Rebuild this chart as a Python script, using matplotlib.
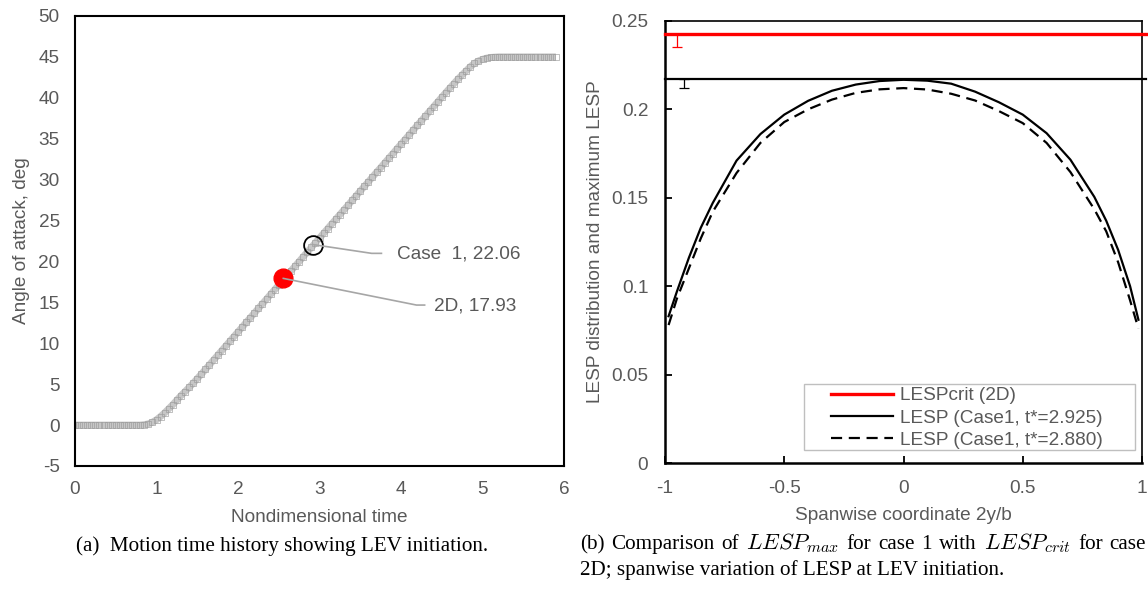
import numpy as np
import matplotlib
matplotlib.use("Agg")
import matplotlib.pyplot as plt
from matplotlib.patches import Rectangle

#########################################################################################
### Data
#########################################################################################
# (a) pitch motion: nondimensional time vs angle of attack (deg)
time = [0.00, 0.05, 0.10, 0.15, 0.20, 0.25, 0.30, 0.35, 0.40, 0.45,
        0.50, 0.55, 0.60, 0.65, 0.70, 0.75, 0.80, 0.85, 0.90, 0.95,
        1.00, 1.05, 1.10, 1.15, 1.20, 1.25, 1.30, 1.35, 1.40, 1.45,
        1.50, 1.55, 1.60, 1.65, 1.70, 1.75, 1.80, 1.85, 1.90, 1.95,
        2.00, 2.05, 2.10, 2.15, 2.20, 2.25, 2.30, 2.35, 2.40, 2.45,
        2.50, 2.55, 2.60, 2.65, 2.70, 2.75, 2.80, 2.85, 2.90, 2.95,
        3.00, 3.05, 3.10, 3.15, 3.20, 3.25, 3.30, 3.35, 3.40, 3.45,
        3.50, 3.55, 3.60, 3.65, 3.70, 3.75, 3.80, 3.85, 3.90, 3.95,
        4.00, 4.05, 4.10, 4.15, 4.20, 4.25, 4.30, 4.35, 4.40, 4.45,
        4.50, 4.55, 4.60, 4.65, 4.70, 4.75, 4.80, 4.85, 4.90, 4.95,
        5.00, 5.05, 5.10, 5.15, 5.20, 5.25, 5.30, 5.35, 5.40, 5.45,
        5.50, 5.55, 5.60, 5.65, 5.70, 5.75, 5.80, 5.85, 5.90]
alpha = [0, 0, 0, 0, 0, 0, 0, 0, 0, 0,
         0, 0, 0, 0, 0, 0, 0, 0.05, 0.15, 0.35,
         0.65, 1.05, 1.5, 2.0, 2.5, 3.05, 3.6, 4.1, 4.6, 5.12,
         5.67, 6.23, 6.80, 7.37, 7.95, 8.52, 9.10, 9.67, 10.24, 10.82,
         11.39, 11.96, 12.54, 13.11, 13.68, 14.26, 14.83, 15.40, 15.98, 16.55,
         17.12, 17.70, 18.27, 18.85, 19.42, 19.99, 20.57, 21.14, 21.71, 22.29,
         22.86, 23.43, 24.01, 24.58, 25.15, 25.73, 26.30, 26.87, 27.45, 28.02,
         28.60, 29.17, 29.74, 30.32, 30.89, 31.46, 32.04, 32.61, 33.18, 33.76,
         34.33, 34.90, 35.48, 36.05, 36.63, 37.20, 37.77, 38.35, 38.92, 39.49,
         40.07, 40.64, 41.2, 41.75, 42.3, 42.8, 43.3, 43.8, 44.2, 44.5,
         44.7, 44.85, 44.93, 44.97, 45, 45, 45, 45, 45, 45,
         45, 45, 45, 45, 45, 45, 45, 45, 45]

# LEV initiation points (time, alpha)
lev_2d = (2.556, 17.93)
lev_case1 = (2.924, 22.06)

# (b) spanwise LESP distribution
span = [-0.985, -0.95, -0.9, -0.85, -0.8, -0.7, -0.6, -0.5, -0.4, -0.3, -0.2, -0.1, 0.0,
        0.1, 0.2, 0.3, 0.4, 0.5, 0.6, 0.7, 0.8, 0.85, 0.9, 0.95, 0.985]
lesp_t2925 = [0.083, 0.097, 0.116, 0.133, 0.147, 0.171, 0.186, 0.197, 0.2048, 0.2105,
              0.2140, 0.2160, 0.2167, 0.2162, 0.2145, 0.2100, 0.2040, 0.1970, 0.1865,
              0.1715, 0.1505, 0.137, 0.1205, 0.100, 0.081]
lesp_t2880 = [0.078, 0.093, 0.110, 0.127, 0.142, 0.164, 0.181, 0.1928, 0.2000, 0.2055,
              0.2093, 0.2113, 0.2120, 0.2112, 0.2088, 0.2050, 0.1990, 0.1922, 0.181,
              0.1645, 0.1435, 0.131, 0.1135, 0.092, 0.076]

lesp_crit_2d = 0.2425
lesp_crit_2d_err = 0.007
lesp_max_case1 = 0.217
lesp_max_case1_err = 0.0052

#########################################################################################
### Style
#########################################################################################
W, H = 1148, 590
GRAY = "#595959"
FS = 13.7
plt.rcParams["font.family"] = ["Liberation Sans", "DejaVu Sans"]
plt.rcParams["mathtext.fontset"] = "cm"
plt.rcParams["axes.unicode_minus"] = False

fig = plt.figure(figsize=(W / 100, H / 100), dpi=100)

def fx(px):
    return px / W

def fy(py):
    return 1 - py / H

#########################################################################################
### (a) Motion time history
#########################################################################################
ax1 = fig.add_axes([fx(75), fy(466), fx(564 - 75), (466 - 16) / H])
ax1.plot(time, alpha, color="#c6c6c6", lw=5.0, solid_capstyle="butt", zorder=2)
ax1.plot(time, alpha, ls="none", marker="s", ms=5.0, mfc="none", mec="#9c9c9c",
         mew=0.45, zorder=2)

# leader lines (drawn from marker centre)
ax1.plot([lev_case1[0], 3.64, 3.76], [lev_case1[1], 20.99, 20.99], color="#a6a6a6",
         lw=1.2, zorder=4)
ax1.plot([lev_2d[0], 4.19, 4.29], [lev_2d[1], 14.67, 14.67], color="#a6a6a6",
         lw=1.2, zorder=4)
ax1.plot(*lev_2d, marker="o", ms=13.5, color="red", zorder=3)
ax1.plot(*lev_case1, marker="o", ms=13.5, mfc="none", mec="black", mew=1.3, zorder=3)
ax1.text(3.95, 20.9, f"Case  1, {lev_case1[1]:.2f}", fontsize=FS, color=GRAY,
         va="center", ha="left")
ax1.text(4.40, 14.6, f"2D, {lev_2d[1]:.2f}", fontsize=FS, color=GRAY,
         va="center", ha="left")

ax1.set_xlim(0, 6)
ax1.set_ylim(-5, 50)
ax1.set_xticks(range(0, 7))
ax1.set_yticks(range(-5, 51, 5))
ax1.tick_params(length=0, labelsize=FS, labelcolor=GRAY, pad=11)
for s in ax1.spines.values():
    s.set_linewidth(1.5)

fig.text(fx(22), fy(241), "Angle of attack, deg", rotation=90, fontsize=FS, color=GRAY,
         ha="center", va="center")
fig.text(fx(319.5), fy(518), "Nondimensional time", fontsize=FS, color=GRAY,
         ha="center", va="center")

#########################################################################################
### (b) LESP comparison
#########################################################################################
ax2 = fig.add_axes([fx(665), fy(463), fx(1142 - 665), (463 - 20.9) / H])
ax2.axhline(lesp_crit_2d, xmin=0, xmax=1.015, color="red", lw=2.4, clip_on=False,
            label="LESPcrit (2D)", zorder=4)
ax2.axhline(lesp_max_case1, xmin=0, xmax=1.008, color="black", lw=1.6, clip_on=False,
            zorder=4)
ax2.plot(span, lesp_t2925, color="black", lw=1.6, label="LESP (Case1, t*=2.925)")
ax2.plot(span, lesp_t2880, color="black", lw=1.6, dashes=(5, 3),
         label="LESP (Case1, t*=2.880)")
ax2.errorbar([-0.95], [lesp_crit_2d], yerr=[[lesp_crit_2d_err], [0]], fmt="none",
             ecolor="red", elinewidth=0.9, capsize=3.8, capthick=0.9)
ax2.errorbar([-0.919], [lesp_max_case1], yerr=[[lesp_max_case1_err], [0]], fmt="none",
             ecolor="black", elinewidth=0.9, capsize=3.8, capthick=0.9)

ax2.set_xlim(-1, 1)
ax2.set_ylim(0, 0.25)
ax2.set_xticks([-1, -0.5, 0, 0.5, 1])
ax2.set_xticklabels(["-1", "-0.5", "0", "0.5", "1"])
ax2.set_yticks([0, 0.05, 0.1, 0.15, 0.2, 0.25])
ax2.set_yticklabels(["0", "0.05", "0.1", "0.15", "0.2", "0.25"])
ax2.tick_params(direction="in", length=5, width=1.3, labelsize=FS, labelcolor=GRAY,
                pad=12)
ax2.spines["left"].set_linewidth(1.8)
ax2.spines["bottom"].set_linewidth(1.8)
ax2.spines["top"].set_linewidth(1.2)
ax2.spines["right"].set_linewidth(1.2)

# legend without its own frame; the Excel-style box is drawn separately
ax_w, ax_h = 1142 - 665, 463 - 20.9
leg = ax2.legend(loc="upper left",
                 bbox_to_anchor=((831 - 665) / ax_w, (463 - 387) / ax_h),
                 borderaxespad=0, borderpad=0, fontsize=FS, frameon=False,
                 handlelength=3.26, labelspacing=0.26, handletextpad=0.37)
for t in leg.get_texts():
    t.set_color(GRAY)
ax2.add_patch(Rectangle(((804 - 665) / ax_w, (463 - 450) / ax_h),
                        (1135 - 804) / ax_w, (450 - 384) / ax_h,
                        transform=ax2.transAxes, fill=False, edgecolor="#bfbfbf",
                        lw=1.0, zorder=5))

fig.text(fx(596), fy(242), "LESP distribution and maximum LESP", rotation=90,
         fontsize=FS, color=GRAY, ha="center", va="center")
fig.text(fx(903.5), fy(516), "Spanwise coordinate 2y/b", fontsize=FS, color=GRAY,
         ha="center", va="center")

#########################################################################################
### Captions
#########################################################################################
CAP = dict(fontsize=15.2, family=["Liberation Serif", "DejaVu Serif"], color="black",
           va="baseline", ha="left")
fig.text(fx(76), fy(551), "(a)  Motion time history showing LEV initiation.", **CAP)
fig.text(fx(580), fy(575), "2D; spanwise variation of LESP at LEV initiation.", **CAP)

# first line of caption (b) is justified to the full width, as in the paper
words = ["(b)", "Comparison", "of", r"$LESP_{max}$", "for", "case", "1", "with",
         r"$LESP_{crit}$", "for", "case"]
x_left, x_right = 580, 1146
renderer = fig.canvas.get_renderer()
items = []
for w in words:
    kw = dict(CAP)
    if w.startswith("$"):
        kw["fontsize"] = 16.3
    items.append(fig.text(0, fy(549), w, **kw))
widths = [t.get_window_extent(renderer).width for t in items]
gap = (x_right - x_left - sum(widths)) / (len(words) - 1)
x = x_left
for t, w in zip(items, widths):
    t.set_x(fx(x))
    x += w + gap

fig.savefig("out.png", dpi=100)
